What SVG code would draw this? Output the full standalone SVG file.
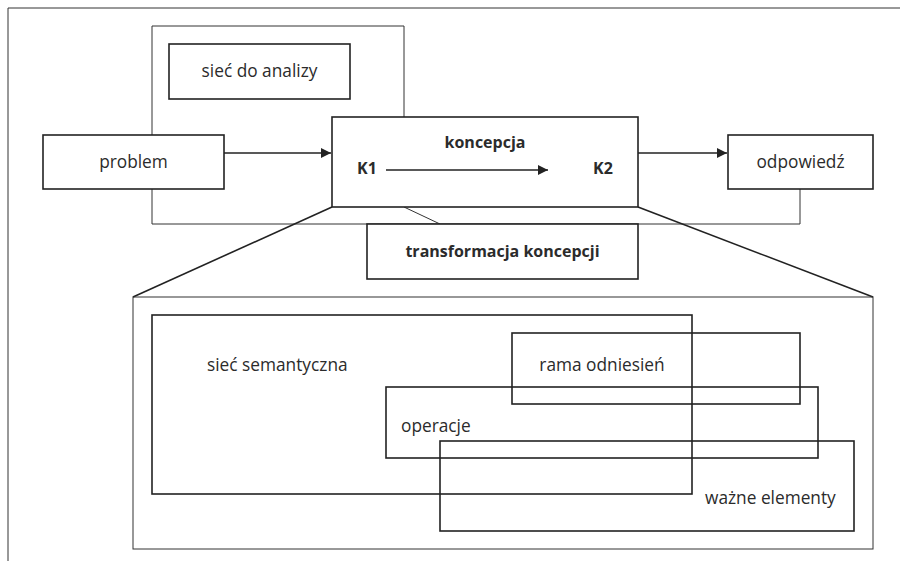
<svg xmlns="http://www.w3.org/2000/svg" width="900" height="561" viewBox="0 0 900 561">
<style>
text{font-family:"Open Sans","Noto Sans",sans-serif;font-size:17.3px;fill:#2b2b2b}
.b{font-weight:bold;font-size:16px}
.box{fill:#fff;stroke:#222;stroke-width:1.6}
.thin{fill:none;stroke:#333;stroke-width:1}
.ln{fill:none;stroke:#222;stroke-width:1.6}
.ov{fill:none;stroke:#222;stroke-width:1.6}
</style>
<defs>
<marker id="ah" markerWidth="10" markerHeight="10" refX="10" refY="5" orient="auto" markerUnits="userSpaceOnUse" viewBox="0 0 10 10">
<path d="M0,0 L10,5 L0,10 z" fill="#222"/>
</marker>
</defs>
<rect width="900" height="561" fill="#fff"/>
<path class="thin" d="M8,561 V8 H900" stroke-width="1.4"/>
<g id="container-analiza">
<path class="thin" d="M404,117 V26 H152 V224 H800 V189"/>
</g>
<g id="connectors">
<line class="ln" x1="224" y1="153" x2="331" y2="153" marker-end="url(#ah)"/>
<line class="ln" x1="638" y1="153" x2="727" y2="153" marker-end="url(#ah)"/>
<line class="thin" x1="404" y1="207" x2="440" y2="224"/>
<line class="ln" x1="332" y1="207" x2="133" y2="297"/>
<line class="ln" x1="638" y1="207" x2="873" y2="297"/>
</g>
<g id="siec-do-analizy">
<rect class="box" x="169" y="44" width="181" height="55"/>
<text x="259.5" y="77" text-anchor="middle">sieć do analizy</text>
</g>
<g id="problem">
<rect class="box" x="43" y="135" width="181" height="54"/>
<text x="133.5" y="168" text-anchor="middle">problem</text>
</g>
<g id="koncepcja">
<rect class="box" x="332" y="117" width="306" height="90"/>
<text class="b" x="485" y="148" text-anchor="middle">koncepcja</text>
<text class="b" x="357" y="174">K1</text>
<text class="b" x="593" y="174">K2</text>
<line class="ln" x1="386" y1="170" x2="548" y2="170" marker-end="url(#ah)"/>
</g>
<g id="odpowiedz">
<rect class="box" x="728" y="135" width="145" height="54"/>
<text x="800.5" y="168" text-anchor="middle">odpowiedź</text>
</g>
<g id="transformacja">
<rect class="box" x="367" y="224" width="271" height="55"/>
<text class="b" x="502.5" y="257" text-anchor="middle">transformacja koncepcji</text>
</g>
<g id="detail">
<rect class="thin" x="133" y="297" width="740" height="252" stroke-width="1.2"/>
</g>
<g id="siec-semantyczna">
<rect class="ov" x="152" y="315" width="540" height="179"/>
<text x="207" y="371">sieć semantyczna</text>
</g>
<g id="rama-odniesien">
<rect class="ov" x="512" y="333" width="288" height="71"/>
<text x="602" y="371" text-anchor="middle">rama odniesień</text>
</g>
<g id="operacje">
<rect class="ov" x="386" y="387" width="432" height="71"/>
<text x="401" y="432">operacje</text>
</g>
<g id="wazne-elementy">
<rect class="ov" x="440" y="441" width="414" height="90"/>
<text x="705" y="504">ważne elementy</text>
</g>
</svg>
